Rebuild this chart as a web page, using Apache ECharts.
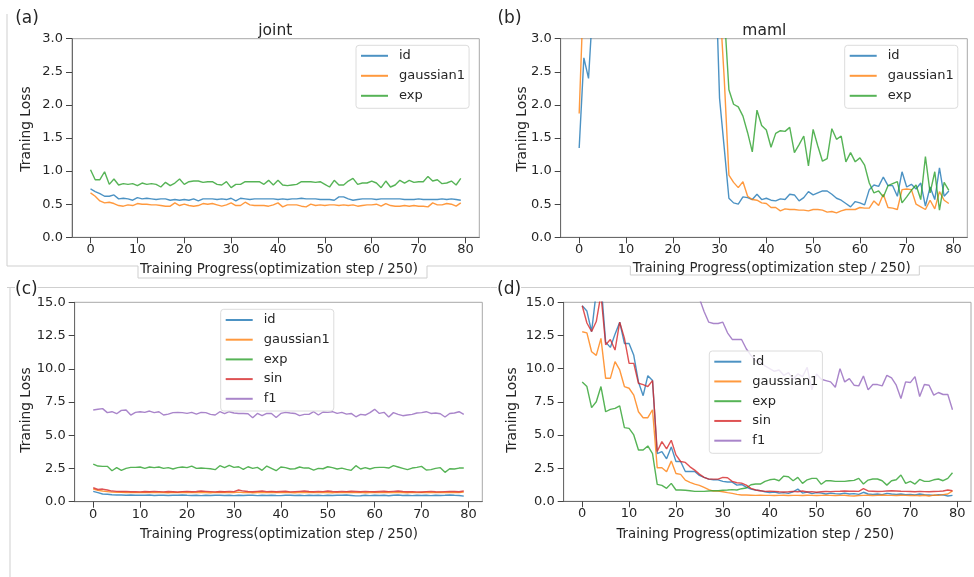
<!DOCTYPE html>
<html>
<head>
<meta charset="utf-8">
<script src="https://cdn.jsdelivr.net/npm/echarts@6/dist/echarts.min.js"></script>
<style>html,body{margin:0;padding:0;background:#fff}#c{width:974px;height:577px}</style>
</head>
<body>
<div id="c"></div>
<script>
// ---------- data ----------
const steps = Array.from({length: 80}, (_, i) => i);
const xTicks = [0, 10, 20, 30, 40, 50, 60, 70, 80];
const names = ['id', 'gaussian1', 'exp', 'sin', 'f1'];

// (a) joint
const a_id = [
0.73,0.69,0.66,0.62,0.62,0.64,0.58,0.59,0.58,0.56,
0.60,0.58,0.59,0.58,0.57,0.58,0.58,0.56,0.57,0.56,
0.57,0.56,0.58,0.55,0.58,0.58,0.58,0.57,0.58,0.57,
0.59,0.55,0.59,0.58,0.57,0.58,0.58,0.58,0.58,0.58,
0.57,0.58,0.57,0.58,0.58,0.59,0.58,0.58,0.58,0.57,
0.57,0.57,0.56,0.61,0.61,0.58,0.56,0.57,0.58,0.58,
0.58,0.57,0.58,0.58,0.58,0.58,0.58,0.57,0.57,0.57,
0.58,0.57,0.57,0.57,0.57,0.58,0.57,0.58,0.57,0.56];
const a_gauss = [
0.67,0.62,0.55,0.52,0.53,0.51,0.48,0.47,0.49,0.48,
0.51,0.50,0.50,0.49,0.49,0.48,0.47,0.47,0.52,0.48,
0.50,0.48,0.47,0.48,0.51,0.50,0.51,0.49,0.47,0.49,
0.52,0.48,0.48,0.53,0.49,0.48,0.48,0.48,0.47,0.49,
0.52,0.46,0.49,0.49,0.49,0.47,0.46,0.50,0.48,0.49,
0.48,0.49,0.49,0.48,0.49,0.48,0.49,0.47,0.48,0.49,
0.49,0.50,0.47,0.51,0.48,0.47,0.47,0.48,0.47,0.48,
0.47,0.47,0.46,0.52,0.49,0.49,0.51,0.50,0.47,0.52];
const a_exp = [
1.02,0.87,0.87,0.99,0.80,0.88,0.79,0.81,0.80,0.81,
0.78,0.82,0.80,0.81,0.80,0.76,0.83,0.78,0.82,0.88,
0.80,0.84,0.85,0.85,0.83,0.84,0.84,0.80,0.79,0.84,
0.75,0.80,0.80,0.84,0.84,0.84,0.84,0.80,0.86,0.79,
0.86,0.79,0.78,0.79,0.80,0.84,0.84,0.84,0.83,0.84,
0.80,0.76,0.86,0.79,0.79,0.85,0.89,0.80,0.82,0.82,
0.85,0.82,0.75,0.85,0.76,0.79,0.86,0.82,0.86,0.83,
0.84,0.84,0.92,0.85,0.87,0.81,0.82,0.85,0.79,0.89];

// (b) maml
const b_id = [
1.35,2.71,2.40,3.60,4.1,4.6,5.0,5.3,5.6,5.8,
6.0,6.1,6.3,6.2,6.4,6.5,6.3,6.6,6.4,6.5,
6.7,6.6,6.4,6.5,6.3,6.2,6.0,5.7,5.2,4.35,
2.10,1.35,0.59,0.52,0.50,0.61,0.60,0.57,0.65,0.57,
0.59,0.56,0.55,0.58,0.57,0.65,0.64,0.55,0.60,0.69,
0.64,0.67,0.70,0.70,0.65,0.59,0.56,0.51,0.46,0.54,
0.52,0.49,0.72,0.79,0.77,0.91,0.78,0.78,0.62,0.99,
0.76,0.80,0.73,0.82,0.47,0.76,0.57,1.05,0.62,0.70];
const b_gauss = [
1.87,3.85,4.4,4.9,5.2,5.5,5.7,5.9,6.0,6.2,
6.3,6.2,6.4,6.5,6.4,6.6,6.5,6.7,6.6,6.5,
6.4,6.3,6.2,6.0,5.8,5.6,5.3,4.9,4.5,4.1,
3.60,2.40,0.94,0.83,0.75,0.84,0.62,0.57,0.56,0.52,
0.51,0.45,0.45,0.40,0.43,0.42,0.42,0.41,0.41,0.40,
0.42,0.42,0.41,0.38,0.39,0.37,0.40,0.42,0.42,0.42,
0.45,0.44,0.44,0.55,0.48,0.65,0.45,0.44,0.42,0.72,
0.73,0.72,0.50,0.46,0.42,0.56,0.43,0.69,0.56,0.51];
const b_exp = [
7.5,7.2,7.0,6.8,6.9,6.7,6.6,6.8,6.5,6.4,
6.6,6.3,6.2,6.4,6.1,6.0,6.2,5.9,5.8,6.0,
5.7,5.6,5.8,5.5,5.3,5.4,5.1,4.9,4.6,4.3,
3.90,3.40,2.23,2.01,1.97,1.83,1.58,1.29,1.92,1.69,
1.62,1.36,1.57,1.61,1.60,1.66,1.28,1.40,1.53,1.08,
1.63,1.38,1.15,1.19,1.64,1.48,1.53,1.14,1.28,1.14,
1.20,1.09,0.82,0.67,0.70,0.61,0.78,0.81,0.84,0.52,
0.61,0.71,0.79,0.57,1.22,0.67,0.99,0.41,0.83,0.71];

// (c) joint, five tasks
const c_id = [
0.78,0.68,0.58,0.56,0.52,0.50,0.50,0.49,0.50,0.48,
0.49,0.48,0.50,0.47,0.49,0.48,0.47,0.49,0.48,0.50,
0.48,0.47,0.49,0.46,0.48,0.47,0.49,0.48,0.47,0.49,
0.46,0.48,0.47,0.49,0.48,0.46,0.48,0.47,0.49,0.47,
0.46,0.48,0.49,0.47,0.48,0.46,0.48,0.47,0.48,0.46,
0.48,0.47,0.49,0.48,0.50,0.47,0.44,0.45,0.48,0.46,
0.49,0.47,0.48,0.45,0.49,0.50,0.47,0.48,0.46,0.48,
0.47,0.49,0.46,0.48,0.47,0.48,0.50,0.48,0.47,0.42];
const c_gauss = [
0.95,0.85,0.80,0.76,0.72,0.70,0.71,0.69,0.70,0.68,
0.70,0.69,0.71,0.68,0.70,0.69,0.67,0.70,0.68,0.71,
0.69,0.70,0.68,0.71,0.69,0.67,0.70,0.69,0.71,0.68,
0.69,0.72,0.68,0.70,0.67,0.69,0.70,0.68,0.71,0.69,
0.68,0.70,0.69,0.67,0.70,0.68,0.71,0.69,0.68,0.70,
0.69,0.67,0.70,0.68,0.71,0.69,0.68,0.70,0.67,0.69,
0.70,0.68,0.69,0.71,0.68,0.70,0.69,0.67,0.70,0.68,
0.69,0.70,0.68,0.69,0.71,0.68,0.70,0.69,0.68,0.72];
const c_exp = [
2.83,2.68,2.66,2.66,2.33,2.56,2.36,2.51,2.58,2.58,
2.61,2.51,2.61,2.56,2.61,2.51,2.56,2.46,2.56,2.61,
2.56,2.68,2.51,2.53,2.51,2.48,2.41,2.71,2.56,2.73,
2.58,2.63,2.43,2.63,2.51,2.58,2.36,2.68,2.51,2.33,
2.61,2.56,2.46,2.48,2.61,2.53,2.53,2.38,2.51,2.48,
2.63,2.56,2.46,2.53,2.43,2.36,2.71,2.46,2.56,2.46,
2.56,2.58,2.58,2.53,2.71,2.61,2.51,2.41,2.53,2.58,
2.66,2.38,2.41,2.51,2.56,2.21,2.48,2.46,2.53,2.53];
const c_sin = [
1.05,0.92,0.95,0.88,0.80,0.78,0.77,0.78,0.75,0.76,
0.74,0.77,0.75,0.78,0.76,0.74,0.77,0.75,0.73,0.76,
0.78,0.75,0.77,0.80,0.78,0.76,0.74,0.77,0.75,0.78,
0.76,0.88,0.80,0.77,0.75,0.78,0.80,0.76,0.78,0.75,
0.77,0.79,0.74,0.76,0.78,0.80,0.77,0.75,0.78,0.76,
0.80,0.77,0.75,0.78,0.76,0.79,0.77,0.75,0.78,0.76,
0.75,0.77,0.79,0.76,0.78,0.80,0.77,0.75,0.76,0.74,
0.73,0.76,0.78,0.75,0.74,0.76,0.78,0.77,0.75,0.80];
const c_f1 = [
6.90,6.95,7.00,6.70,6.77,6.62,6.87,6.90,6.52,6.72,
6.77,6.72,6.82,6.70,6.77,6.52,6.59,6.70,6.72,6.70,
6.64,6.72,6.59,6.72,6.70,6.57,6.52,6.77,6.62,6.77,
6.67,6.64,6.64,6.62,6.32,6.64,6.47,6.64,6.64,6.34,
6.64,6.72,6.67,6.64,6.47,6.57,6.57,6.77,6.52,6.75,
6.72,6.77,6.64,6.72,6.59,6.64,6.39,6.57,6.52,6.70,
6.95,6.64,6.72,6.37,6.70,6.57,6.47,6.52,6.57,6.67,
6.70,6.77,6.64,6.67,6.62,6.37,6.64,6.67,6.77,6.57];

// (d) maml, five tasks
const d_id = [
14.74,14.34,12.78,15.8,16.5,12.0,11.6,12.6,13.5,11.9,
11.9,11.0,9.0,7.96,9.47,9.1,3.6,3.75,3.2,4.1,
3.0,3.0,2.25,2.25,2.25,1.95,1.8,1.67,1.62,1.62,
1.5,1.45,1.45,1.22,1.27,1.07,0.92,0.85,0.80,0.72,
0.65,0.70,0.62,0.65,0.60,0.72,0.92,0.62,0.70,0.58,
0.65,0.62,0.55,0.62,0.58,0.55,0.62,0.55,0.58,0.52,
0.68,0.55,0.52,0.55,0.50,0.60,0.55,0.52,0.55,0.50,
0.52,0.48,0.55,0.50,0.48,0.45,0.50,0.48,0.40,0.45];
const d_gauss = [
12.78,12.7,11.27,11.0,12.28,9.27,9.27,10.53,9.9,8.65,
8.52,8.0,6.75,6.3,6.3,6.9,2.53,2.53,2.23,3.03,
2.1,2.03,1.6,1.43,1.3,1.2,1.05,0.88,0.77,0.77,
0.72,0.65,0.6,0.52,0.47,0.47,0.46,0.45,0.46,0.45,
0.45,0.44,0.45,0.46,0.44,0.45,0.45,0.44,0.46,0.45,
0.44,0.45,0.46,0.45,0.44,0.45,0.46,0.42,0.40,0.44,
0.45,0.46,0.44,0.45,0.48,0.46,0.45,0.44,0.46,0.45,
0.44,0.45,0.42,0.46,0.40,0.47,0.45,0.50,0.55,0.78];
const d_exp = [
9.0,8.65,7.06,7.5,8.65,6.75,6.93,7.0,7.2,5.55,
5.5,5.0,3.87,3.87,4.17,3.6,1.28,1.2,0.98,1.35,
0.85,0.85,0.83,0.80,0.75,0.75,0.75,0.78,0.80,0.80,
0.83,0.85,0.88,0.85,0.95,1.0,1.25,1.3,1.3,1.5,
1.62,1.67,1.55,1.9,1.85,1.55,1.8,1.35,1.62,1.73,
1.73,1.28,1.55,1.55,1.5,1.5,1.5,1.55,1.58,1.73,
1.3,1.6,1.68,1.68,1.55,1.22,1.55,1.62,1.98,1.35,
1.5,1.3,1.65,1.5,1.5,1.62,1.68,1.55,1.73,2.15];
const d_sin = [
14.74,13.44,12.8,13.55,15.6,11.8,12.2,11.4,13.5,12.3,
10.4,10.4,8.9,8.8,8.65,9.1,3.75,4.5,3.95,4.6,
3.5,3.0,2.93,2.6,2.35,2.05,1.8,1.67,1.67,1.67,
1.8,1.78,1.5,1.4,1.37,1.22,0.97,0.85,0.80,0.75,
0.77,0.75,0.72,0.70,0.72,0.75,0.72,0.78,0.70,0.73,
0.68,0.72,0.74,0.73,0.75,0.76,0.78,0.76,0.77,0.75,
0.95,0.78,0.76,0.74,0.75,0.78,0.80,0.78,0.76,0.75,
0.74,0.72,0.75,0.73,0.72,0.74,0.75,0.78,0.85,0.80];
const d_f1 = [
22.0,21.5,21.0,20.8,20.4,20.0,19.7,19.5,19.0,18.8,
18.5,18.3,18.0,17.8,17.5,17.3,17.0,16.8,16.6,16.4,
16.2,16.0,15.9,15.7,15.5,15.3,14.3,13.5,13.4,13.4,
13.5,12.7,12.2,12.2,12.2,11.5,11.0,10.6,10.5,10.2,
10.0,9.8,9.9,9.5,9.7,9.2,9.6,9.4,10.1,8.4,
9.6,9.2,9.1,9.0,8.6,10.0,9.0,9.25,8.75,8.7,
9.45,8.4,8.8,8.8,8.7,9.5,9.3,8.75,7.75,9.0,
8.95,9.4,7.9,8.8,8.75,8.0,8.2,8.05,8.05,6.9];

// ---------- chart ----------
const FONT = '"DejaVu Sans", sans-serif';
const TXT = '#262626';
const colors = {id:'#1f77b4', gaussian1:'#ff7f0e', exp:'#2ca02c', sin:'#d62728', f1:'#9467bd'};

const grids = [
  {left:72,    top:38.7,  width:407.3, height:198.6},
  {left:560.7, top:38.7,  width:406.6, height:198.6},
  {left:74.7,  top:302.3, width:407.6, height:199.4},
  {left:563.7, top:302.3, width:407.3, height:199}
].map(g => Object.assign({show:true, borderColor:'#a8a8a8', borderWidth:1, backgroundColor:'transparent'}, g));

function xAx(i){
  return {gridIndex:i, type:'value', min:-3.95, max:82.95,
    axisLine:{show:true, onZero:false, lineStyle:{color:'#6a6a6a', width:1}},
    axisTick:{show:true, length:6, lineStyle:{color:'#444'}, customValues:xTicks},
    axisLabel:{customValues:xTicks, margin:6, fontSize:13, fontFamily:FONT, color:TXT},
    splitLine:{show:false}};
}
function yAx(i, max, step){
  return {gridIndex:i, type:'value', min:0, max:max, interval:step,
    axisLine:{show:true, onZero:false, lineStyle:{color:'#6a6a6a', width:1}},
    axisTick:{show:true, length:6, lineStyle:{color:'#444'}},
    axisLabel:{margin:9, fontSize:13, fontFamily:FONT, color:TXT, formatter:v => v.toFixed(1)},
    splitLine:{show:false}};
}

function mk(name, vals, gi){
  const c = colors[name];
  return {type:'line', name:name, xAxisIndex:gi, yAxisIndex:gi,
    data: steps.map((s, i) => [s, vals[i]]),
    symbol:'none', showSymbol:false, clip:true, silent:true,
    lineStyle:{width:1.4, color:c, opacity:0.8}, itemStyle:{color:c, opacity:0.8}, z:2};
}

const series = [
  mk('id', a_id, 0), mk('gaussian1', a_gauss, 0), mk('exp', a_exp, 0),
  mk('id', b_id, 1), mk('gaussian1', b_gauss, 1), mk('exp', b_exp, 1),
  mk('id', c_id, 2), mk('gaussian1', c_gauss, 2), mk('exp', c_exp, 2), mk('sin', c_sin, 2), mk('f1', c_f1, 2),
  mk('id', d_id, 3), mk('gaussian1', d_gauss, 3), mk('exp', d_exp, 3), mk('sin', d_sin, 3), mk('f1', d_f1, 3)
];

function leg(left, top, data, gap, pad){
  return {orient:'vertical', left:left, top:top, data:data, icon:'rect', itemWidth:27, itemHeight:2,
    itemGap:gap, padding:pad, backgroundColor:'rgba(255,255,255,0.8)', borderColor:'#dcdcdc', borderWidth:1, borderRadius:3,
    selectedMode:false,
    itemStyle:{opacity:0.8},
    textStyle:{fontSize:13, fontFamily:FONT, color:TXT, lineHeight:14, padding:[0,0,0,6]}};
}

function label(text, x, y, size, opts){
  return Object.assign({type:'text', x:x, y:y, z:100,
    style:{text:text, font:size + 'px ' + FONT, fill:TXT, align:'center', verticalAlign:'middle'}}, opts || {});
}
function line(points){
  return {type:'polyline', z:0, shape:{points:points}, style:{stroke:'#cfcfcf', lineWidth:1, fill:null}};
}

const graphics = [
  // frame lines of the composed figure
  line([[7,14],[7,266],[138,266],[138,278],[427,278],[427,266],[487,266]]),
  line([[487,266],[630.3,266],[630.3,275],[919.3,275],[919.3,266],[974,266]]),
  line([[7,287.5],[974,287.5]]),
  line([[10,287.5],[10,577]]),
  // panel letters
  label('(a)', 27, 18.3, 17),
  label('(b)', 509.5, 18.3, 17),
  {type:'text', x:15, y:289.7, z:100, style:{text:'(c)', font:'17px ' + FONT, fill:TXT, align:'left', verticalAlign:'middle', backgroundColor:'#fff'}},
  {type:'text', x:497, y:289.7, z:100, style:{text:'(d)', font:'17px ' + FONT, fill:TXT, align:'left', verticalAlign:'middle', backgroundColor:'#fff'}},
  // titles
  label('joint', 275.3, 30.5, 15.5),
  label('maml', 764.3, 30.5, 15.5),
  // x labels
  label('Training Progress(optimization step / 250)', 279, 270, 13.3),
  label('Training Progress(optimization step / 250)', 771.7, 268.5, 13.3),
  label('Training Progress(optimization step / 250)', 279, 535, 13.3),
  label('Training Progress(optimization step / 250)', 755.3, 535, 13.3),
  // y labels
  label('Traning Loss', 26.7, 129, 13.8, {rotation:Math.PI/2}),
  label('Traning Loss', 522.3, 129, 13.8, {rotation:Math.PI/2}),
  label('Traning Loss', 26.5, 410, 13.8, {rotation:Math.PI/2}),
  label('Traning Loss', 512.5, 410, 13.8, {rotation:Math.PI/2})
];

const chart = echarts.init(document.getElementById('c'), null, {renderer:'canvas', width:974, height:577});
chart.setOption({
  animation:false,
  backgroundColor:'#fff',
  grid: grids,
  xAxis: [xAx(0), xAx(1), xAx(2), xAx(3)],
  yAxis: [yAx(0, 3, 0.5), yAx(1, 3, 0.5), yAx(2, 15, 2.5), yAx(3, 15, 2.5)],
  legend: [
    leg(356, 45.3, ['id','gaussian1','exp'], 6, [3.5,4,5.5,5]),
    leg(844.7, 45.3, ['id','gaussian1','exp'], 6, [3.5,4,5.5,5]),
    leg(220.7, 309.3, names, 5.7, [3.7,4,5.2,5]),
    leg(709.3, 351, names, 5.75, [3.7,4,5.6,5])
  ],
  series: series,
  graphic: {elements: graphics}
});
</script>
</body>
</html>
